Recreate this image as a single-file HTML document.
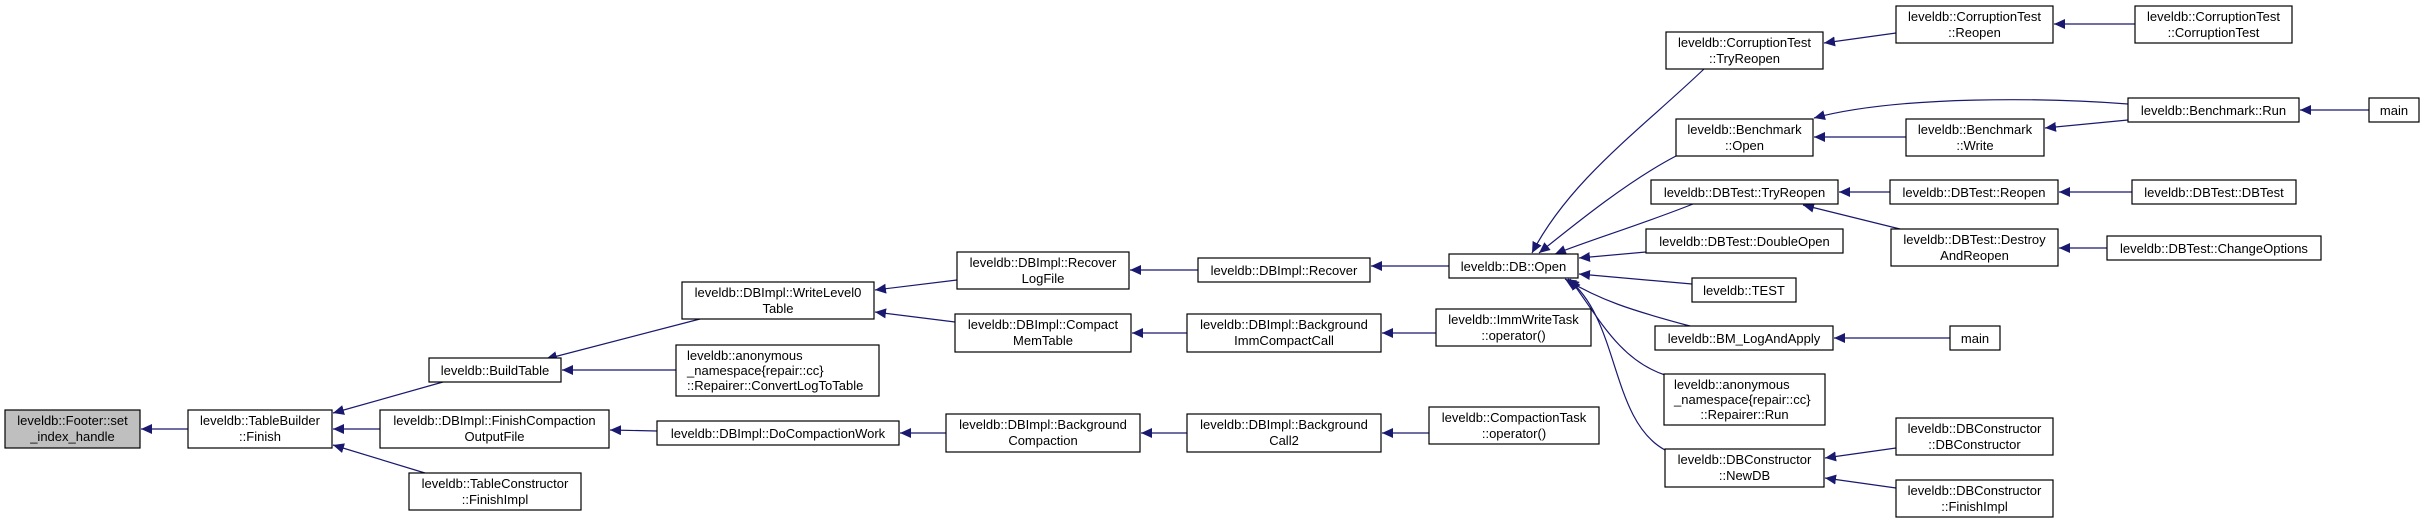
<!DOCTYPE html>
<html><head><meta charset="utf-8"><style>
html,body{margin:0;padding:0;background:#fff;}
svg{display:block;}
text{font-family:"Liberation Sans",Arial,sans-serif;font-size:13px;fill:#000;}
.b{fill:#fff;stroke:#000;stroke-width:1.2;}
.e{fill:none;stroke:#191970;stroke-width:1.2;marker-end:url(#a);}
</style></head><body>
<svg width="2424" height="531" viewBox="0 0 2424 531" xmlns="http://www.w3.org/2000/svg">
<defs><marker id="a" markerUnits="userSpaceOnUse" markerWidth="12" markerHeight="10" refX="11" refY="5" orient="auto"><path d="M0,0 L11,5 L0,10 z" fill="#191970"/></marker></defs>

<!-- edges -->
<path class="e" d="M188,429 L141,429"/>
<path class="e" d="M443,382 L333,413"/>
<path class="e" d="M380,429 L333,429"/>
<path class="e" d="M425,473 L333,445"/>
<path class="e" d="M700,319 L546,359"/>
<path class="e" d="M676,370 L562,370"/>
<path class="e" d="M957,280 L875,290"/>
<path class="e" d="M955,322 L875,312"/>
<path class="e" d="M1198,270 L1130,270"/>
<path class="e" d="M1449,266 L1371,266"/>
<path class="e" d="M1187,333 L1132,333"/>
<path class="e" d="M1436,333 L1382,333"/>
<path class="e" d="M657,431 L610,430"/>
<path class="e" d="M946,433 L900,433"/>
<path class="e" d="M1187,433 L1141,433"/>
<path class="e" d="M1429,433 L1382,433"/>

<path class="e" d="M1704,69 C1640,130 1570,180 1532,253"/>
<path class="e" d="M1676,156 C1630,180 1580,220 1539,253"/>
<path class="e" d="M1693,204 C1640,225 1590,240 1555,254"/>
<path class="e" d="M1646,252 L1579,258"/>
<path class="e" d="M1692,284 L1579,274"/>
<path class="e" d="M1690,326 C1630,310 1600,300 1565,279"/>
<path class="e" d="M1665,375 C1620,360 1600,320 1570,279"/>
<path class="e" d="M1665,450 C1610,420 1620,320 1568,279"/>

<path class="e" d="M1896,33 L1824,43"/>
<path class="e" d="M2135,24 L2054,24"/>
<path class="e" d="M2128,104 C2050,98 1900,95 1814,118"/>
<path class="e" d="M1906,137 L1814,137"/>
<path class="e" d="M2128,120 L2045,128"/>
<path class="e" d="M2369,110 L2300,110"/>
<path class="e" d="M1890,192 L1839,192"/>
<path class="e" d="M2132,192 L2059,192"/>
<path class="e" d="M1900,229 L1803,205"/>
<path class="e" d="M2107,248 L2059,248"/>
<path class="e" d="M1950,338 L1834,338"/>
<path class="e" d="M1896,448 L1825,458"/>
<path class="e" d="M1896,488 L1825,478"/>

<!-- nodes -->
<rect x="5" y="410" width="135" height="38" fill="#bfbfbf" stroke="#000" stroke-width="1.2"/>
<text x="72.5" y="425" text-anchor="middle">leveldb::Footer::set</text><text x="72.5" y="441" text-anchor="middle">_index_handle</text>

<rect class="b" x="188" y="410" width="144" height="38"/>
<text x="260" y="425" text-anchor="middle">leveldb::TableBuilder</text><text x="260" y="441" text-anchor="middle">::Finish</text>

<rect class="b" x="429" y="358" width="132" height="24"/>
<text x="495" y="375" text-anchor="middle">leveldb::BuildTable</text>

<rect class="b" x="380" y="410" width="229" height="38"/>
<text x="494.5" y="425" text-anchor="middle">leveldb::DBImpl::FinishCompaction</text><text x="494.5" y="441" text-anchor="middle">OutputFile</text>

<rect class="b" x="409" y="473" width="172" height="37"/>
<text x="495" y="488" text-anchor="middle">leveldb::TableConstructor</text><text x="495" y="504" text-anchor="middle">::FinishImpl</text>

<rect class="b" x="682" y="282" width="192" height="37"/>
<text x="778" y="297" text-anchor="middle">leveldb::DBImpl::WriteLevel0</text><text x="778" y="313" text-anchor="middle">Table</text>

<rect class="b" x="676" y="345" width="203" height="51"/>
<text x="687" y="360">leveldb::anonymous</text><text x="687" y="375">_namespace{repair::cc}</text><text x="687" y="390">::Repairer::ConvertLogToTable</text>

<rect class="b" x="957" y="252" width="172" height="37"/>
<text x="1043" y="267" text-anchor="middle">leveldb::DBImpl::Recover</text><text x="1043" y="283" text-anchor="middle">LogFile</text>

<rect class="b" x="955" y="314" width="176" height="38"/>
<text x="1043" y="329" text-anchor="middle">leveldb::DBImpl::Compact</text><text x="1043" y="345" text-anchor="middle">MemTable</text>

<rect class="b" x="1198" y="258" width="172" height="24"/>
<text x="1284" y="275" text-anchor="middle">leveldb::DBImpl::Recover</text>

<rect class="b" x="1187" y="314" width="194" height="38"/>
<text x="1284" y="329" text-anchor="middle">leveldb::DBImpl::Background</text><text x="1284" y="345" text-anchor="middle">ImmCompactCall</text>

<rect class="b" x="657" y="421" width="242" height="24"/>
<text x="778" y="438" text-anchor="middle">leveldb::DBImpl::DoCompactionWork</text>

<rect class="b" x="946" y="414" width="194" height="38"/>
<text x="1043" y="429" text-anchor="middle">leveldb::DBImpl::Background</text><text x="1043" y="445" text-anchor="middle">Compaction</text>

<rect class="b" x="1187" y="414" width="194" height="38"/>
<text x="1284" y="429" text-anchor="middle">leveldb::DBImpl::Background</text><text x="1284" y="445" text-anchor="middle">Call2</text>

<rect class="b" x="1449" y="254" width="129" height="24"/>
<text x="1513.5" y="271" text-anchor="middle">leveldb::DB::Open</text>

<rect class="b" x="1436" y="309" width="155" height="37"/>
<text x="1513.5" y="324" text-anchor="middle">leveldb::ImmWriteTask</text><text x="1513.5" y="340" text-anchor="middle">::operator()</text>

<rect class="b" x="1429" y="407" width="170" height="37"/>
<text x="1514" y="422" text-anchor="middle">leveldb::CompactionTask</text><text x="1514" y="438" text-anchor="middle">::operator()</text>

<rect class="b" x="1666" y="32" width="157" height="37"/>
<text x="1744.5" y="47" text-anchor="middle">leveldb::CorruptionTest</text><text x="1744.5" y="63" text-anchor="middle">::TryReopen</text>

<rect class="b" x="1896" y="6" width="157" height="37"/>
<text x="1974.5" y="21" text-anchor="middle">leveldb::CorruptionTest</text><text x="1974.5" y="37" text-anchor="middle">::Reopen</text>

<rect class="b" x="2135" y="6" width="157" height="37"/>
<text x="2213.5" y="21" text-anchor="middle">leveldb::CorruptionTest</text><text x="2213.5" y="37" text-anchor="middle">::CorruptionTest</text>

<rect class="b" x="1676" y="119" width="137" height="37"/>
<text x="1744.5" y="134" text-anchor="middle">leveldb::Benchmark</text><text x="1744.5" y="150" text-anchor="middle">::Open</text>

<rect class="b" x="1906" y="119" width="138" height="37"/>
<text x="1975" y="134" text-anchor="middle">leveldb::Benchmark</text><text x="1975" y="150" text-anchor="middle">::Write</text>

<rect class="b" x="2128" y="98" width="171" height="24"/>
<text x="2213.5" y="115" text-anchor="middle">leveldb::Benchmark::Run</text>

<rect class="b" x="2369" y="98" width="50" height="24"/>
<text x="2394" y="115" text-anchor="middle">main</text>

<rect class="b" x="1651" y="180" width="187" height="24"/>
<text x="1744.5" y="197" text-anchor="middle">leveldb::DBTest::TryReopen</text>

<rect class="b" x="1890" y="180" width="168" height="24"/>
<text x="1974" y="197" text-anchor="middle">leveldb::DBTest::Reopen</text>

<rect class="b" x="2132" y="180" width="164" height="24"/>
<text x="2214" y="197" text-anchor="middle">leveldb::DBTest::DBTest</text>

<rect class="b" x="1891" y="229" width="167" height="37"/>
<text x="1974.5" y="244" text-anchor="middle">leveldb::DBTest::Destroy</text><text x="1974.5" y="260" text-anchor="middle">AndReopen</text>

<rect class="b" x="2107" y="236" width="214" height="24"/>
<text x="2214" y="253" text-anchor="middle">leveldb::DBTest::ChangeOptions</text>

<rect class="b" x="1646" y="229" width="197" height="24"/>
<text x="1744.5" y="246" text-anchor="middle">leveldb::DBTest::DoubleOpen</text>

<rect class="b" x="1692" y="278" width="104" height="24"/>
<text x="1744" y="295" text-anchor="middle">leveldb::TEST</text>

<rect class="b" x="1655" y="326" width="178" height="24"/>
<text x="1744" y="343" text-anchor="middle">leveldb::BM_LogAndApply</text>

<rect class="b" x="1950" y="326" width="50" height="24"/>
<text x="1975" y="343" text-anchor="middle">main</text>

<rect class="b" x="1664" y="374" width="161" height="51"/>
<text x="1674" y="389">leveldb::anonymous</text><text x="1674" y="404">_namespace{repair::cc}</text><text x="1744.5" y="419" text-anchor="middle">::Repairer::Run</text>

<rect class="b" x="1665" y="449" width="159" height="38"/>
<text x="1744.5" y="464" text-anchor="middle">leveldb::DBConstructor</text><text x="1744.5" y="480" text-anchor="middle">::NewDB</text>

<rect class="b" x="1896" y="418" width="157" height="37"/>
<text x="1974.5" y="433" text-anchor="middle">leveldb::DBConstructor</text><text x="1974.5" y="449" text-anchor="middle">::DBConstructor</text>

<rect class="b" x="1896" y="480" width="157" height="37"/>
<text x="1974.5" y="495" text-anchor="middle">leveldb::DBConstructor</text><text x="1974.5" y="511" text-anchor="middle">::FinishImpl</text>
</svg>
</body></html>
